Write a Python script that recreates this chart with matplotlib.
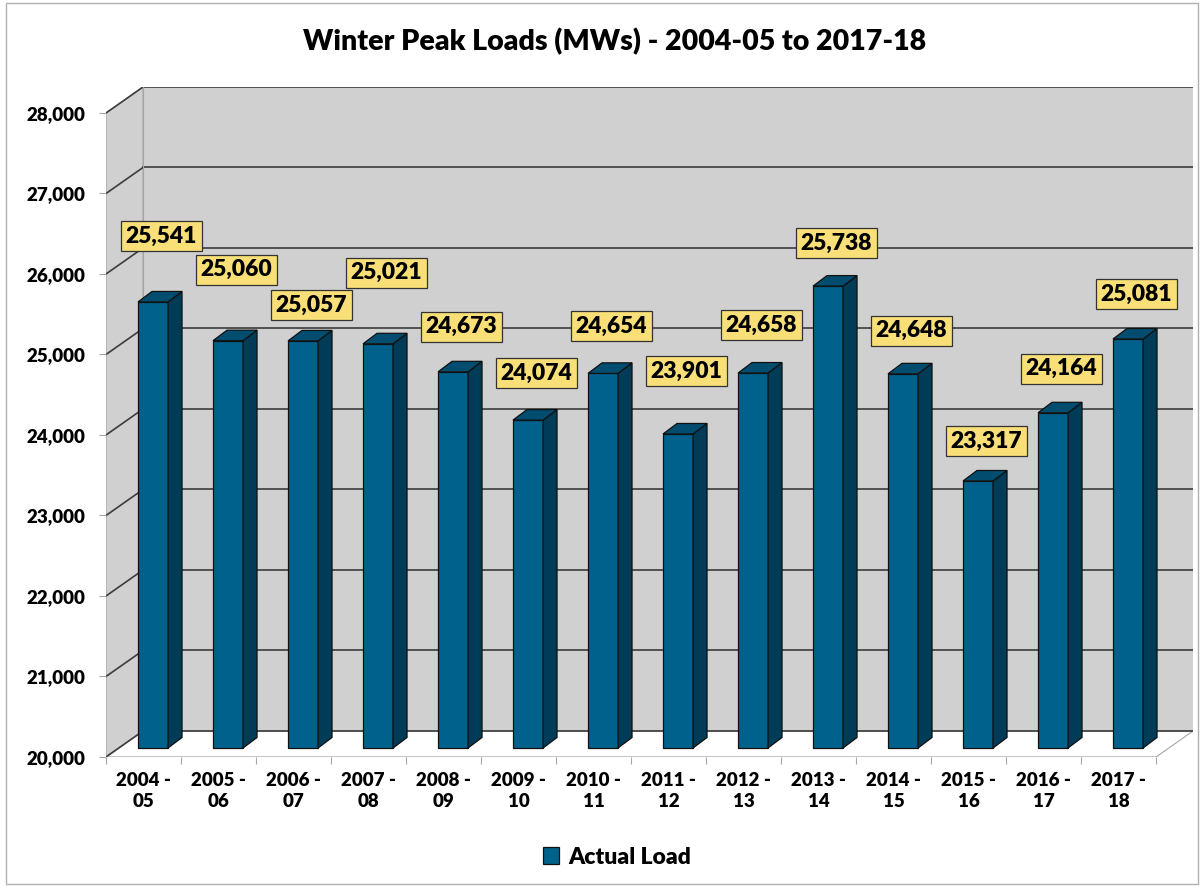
import matplotlib.pyplot as plt
from matplotlib.patches import Polygon, Rectangle, Patch

# data
seasons = ["2004 -\n05", "2005 -\n06", "2006 -\n07", "2007 -\n08", "2008 -\n09",
           "2009 -\n10", "2010 -\n11", "2011 -\n12", "2012 -\n13", "2013 -\n14",
           "2014 -\n15", "2015 -\n16", "2016 -\n17", "2017 -\n18"]
loads = [25541, 25060, 25057, 25021, 24673, 24074, 24654,
         23901, 24658, 25738, 24648, 23317, 24164, 25081]
yticks = [20000, 21000, 22000, 23000, 24000, 25000, 26000, 27000, 28000]

# how far each value box sits above its bar (pixels)
label_lift = [66, 71, 36, 71, 45, 47, 47, 63, 48, 43, 43, 40, 44, 45]

plt.rcParams['font.family'] = ['Lato', 'DejaVu Sans']
W = 'heavy'

n = len(loads)
ymin = yticks[0]
ymax = yticks[-1]
px_x = 75.0          # pixels per category
px_y = 0.0805        # pixels per MW
DX = 37 / px_x       # depth of the walls
DY = 26 / px_y
bx = 14 / px_x       # depth of a bar
by = 10.5 / px_y
shift = 9 / px_y     # bars stand a little back from the front edge

fig = plt.figure(figsize=(12.03, 8.86), dpi=100)
ax = fig.add_axes([106 / 1203, (886 - 757) / 886, (14 + DX) * px_x / 1203, (ymax - ymin + DY) * px_y / 886])
ax.set_xlim(0, n + DX)
ax.set_ylim(ymin, ymax + DY)
for s in ax.spines.values():
    s.set_visible(False)

wall = '#d0d0d0'
grid = '#3c3c3c'
edge = '#a6a6a6'

# back wall, side wall, floor
ax.add_patch(Polygon([(DX, ymin + DY), (n + DX, ymin + DY), (n + DX, ymax + DY), (DX, ymax + DY)],
                     closed=True, fc=wall, ec='none', zorder=0))
ax.add_patch(Polygon([(0, ymin), (DX, ymin + DY), (DX, ymax + DY), (0, ymax)],
                     closed=True, fc=wall, ec=edge, lw=0.8, zorder=0))
ax.add_patch(Polygon([(0, ymin), (n, ymin), (n + DX, ymin + DY), (DX, ymin + DY)],
                     closed=True, fc='white', ec=edge, lw=0.8, zorder=0.5))
for t in yticks:
    ax.plot([DX, n + DX], [t + DY, t + DY], color=grid, lw=1.2, zorder=1)
    ax.plot([0, DX], [t, t + DY], color=grid, lw=1.2, zorder=1)
ax.plot([DX, DX], [ymin + DY, ymax + DY], color=edge, lw=0.8, zorder=1)
ax.plot([0, n], [ymin, ymin], color=edge, lw=1, zorder=1)

# bars with side and top faces
front = '#00628c'
side = '#003b57'
top = '#004d70'
xs = [i + 0.627 for i in range(n)]
heights = [v - ymin for v in loads]
ax.bar(xs, heights, width=0.4, bottom=ymin + shift, color=front, edgecolor='#111111', lw=0.9, zorder=3)
for x, v in zip(xs, loads):
    r = x + 0.2
    l = x - 0.2
    ax.add_patch(Polygon([(r, ymin + shift), (r + bx, ymin + shift + by), (r + bx, v + shift + by), (r, v + shift)],
                         closed=True, fc=side, ec='#111111', lw=0.9, zorder=3))
    ax.add_patch(Polygon([(l, v + shift), (r, v + shift), (r + bx, v + shift + by), (l + bx, v + shift + by)],
                         closed=True, fc=top, ec='#111111', lw=0.9, zorder=3))

# value labels
for i, v in enumerate(loads):
    ax.annotate(f"{v:,}", xy=(i + 0.5, v), xytext=(18 * 0.72, (9 + label_lift[i]) * 0.72),
                textcoords='offset points', ha='center', va='center', fontsize=16.5,
                fontweight=W, zorder=5,
                bbox=dict(boxstyle='square,pad=0.2', fc='#f8df78', ec='#333333', lw=0.9))

# axes ticks
ax.set_yticks(yticks)
ax.set_yticklabels([f"{t:,}" for t in yticks], fontsize=13.5, fontweight=W)
ax.tick_params(axis='y', length=5, color=edge, pad=10)
ax.set_xticks(range(n + 1))
ax.set_xticklabels([])
ax.set_xticks([i + 0.5 for i in range(n)], minor=True)
ax.set_xticklabels(seasons, minor=True, fontsize=13.5, fontweight=W, linespacing=1.3)
ax.tick_params(axis='x', which='major', length=5, color=edge)
ax.tick_params(axis='x', which='minor', length=0, pad=11)

fig.text(615 / 1203, 1 - 42 / 886, "Winter Peak Loads (MWs) - 2004-05 to 2017-18",
         ha='center', va='center', fontsize=20.5, fontweight=W)

fig.legend(handles=[Patch(fc=front, ec='#111111', lw=0.9, label='Actual Load')],
           loc='center', bbox_to_anchor=(617 / 1203, 1 - 857 / 886), frameon=False,
           handlelength=0.7, handleheight=0.7, handletextpad=0.4,
           prop={'weight': W, 'size': 16.5})

# chart border
fig.patches.append(Rectangle((6 / 1203, 2 / 886), 1192 / 1203, 881 / 886, transform=fig.transFigure,
                             fill=False, ec='#b0b0b0', lw=1))

fig.savefig('out.png', dpi=100)
